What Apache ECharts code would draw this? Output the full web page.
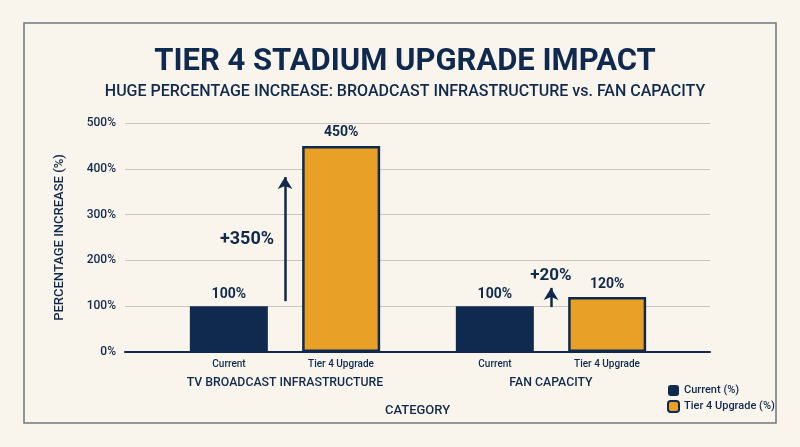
<!DOCTYPE html>
<html>
<head>
<meta charset="utf-8">
<script src="https://cdn.jsdelivr.net/npm/echarts@6/dist/echarts.min.js"></script>
<style>
    html, body { margin: 0; padding: 0; background: #faf5ec; }
    #chart { width: 800px; height: 447px; }
</style>
</head>
<body>
<div id="chart"></div>
<script>
// data
var groups = ['TV BROADCAST INFRASTRUCTURE', 'FAN CAPACITY'];
var subLabels = ['Current', 'Tier 4 Upgrade'];
var currentVals = [100, 100];
var upgradeVals = [450, 120];
var deltaLabels = ['+350%', '+20%'];
var arrowFrom = [111, 98];
var arrowTo = [382, 140];
var deltaTextAt = [246, 166];

var NAVY = '#0f2a4e';
var ORANGE = '#e8a026';

var myChart = echarts.init(document.getElementById('chart'));

function buildOption() {
    var arrowLines = [];
    var deltaPoints = [];
    for (var i = 0; i < groups.length; i++) {
        arrowLines.push([
            { coord: [groups[i], arrowFrom[i]] },
            { coord: [groups[i], arrowTo[i]] }
        ]);
        deltaPoints.push({
            coord: [groups[i], deltaTextAt[i]],
            value: deltaLabels[i],
            label: { offset: i === 0 ? [-38, 0] : [0, 0], fontSize: i === 0 ? 18 : 17 }
        });
    }

    var option = {
        backgroundColor: '#faf5ec',
        textStyle: { fontFamily: 'Roboto' },
        graphic: [{
            type: 'rect',
            shape: { x: 24, y: 23, width: 752, height: 400 },
            style: { fill: 'none', stroke: '#6f7780', lineWidth: 1.5 },
            silent: true
        }],
        title: [{
            text: 'TIER 4 STADIUM UPGRADE IMPACT',
            left: 400, top: 42, textAlign: 'center',
            textStyle: { fontSize: 31, fontWeight: 'bold', color: NAVY, fontFamily: 'Roboto' }
        }, {
            text: 'HUGE PERCENTAGE INCREASE: BROADCAST INFRASTRUCTURE vs. FAN CAPACITY',
            left: 400, top: 79, textAlign: 'center',
            textStyle: { fontSize: 16, fontWeight: 500, color: NAVY, fontFamily: 'Roboto' }
        }],
        legend: {
            orient: 'vertical',
            left: 662, top: 380,
            itemWidth: 11, itemHeight: 11, itemGap: 4,
            textStyle: { fontSize: 11, fontWeight: 500, color: NAVY },
            data: ['Current (%)', 'Tier 4 Upgrade (%)']
        },
        grid: [
            { left: 125, right: 90, top: 123, bottom: 95 },
            { left: 152, right: 116, top: 123, bottom: 95 }
        ],
        xAxis: [{
            gridIndex: 0,
            type: 'value', min: 0, max: 1,
            axisLine: { show: true, onZero: false, lineStyle: { color: NAVY, width: 2 } },
            axisTick: { show: false },
            axisLabel: { show: false },
            splitLine: { show: false },
            name: 'CATEGORY',
            nameLocation: 'middle',
            nameGap: 52,
            nameTextStyle: { fontSize: 13, fontWeight: 500, color: NAVY }
        }, {
            gridIndex: 1,
            type: 'category',
            data: groups,
            axisLine: { show: false },
            axisTick: { show: false },
            axisLabel: {
                interval: 0,
                margin: 5,
                formatter: function (v) {
                    return '{s|' + subLabels[0] + '}{s|' + subLabels[1] + '}\n{g|' + v + '}';
                },
                rich: {
                    s: { width: 112, align: 'center', fontSize: 10, fontWeight: 500, lineHeight: 14, color: NAVY },
                    g: { fontSize: 12.3, fontWeight: 500, lineHeight: 24, color: NAVY }
                }
            }
        }],
        yAxis: [{
            gridIndex: 0,
            type: 'value', min: 0, max: 500, interval: 100,
            axisLine: { show: false },
            axisTick: { show: false },
            axisLabel: { formatter: '{value}%', fontSize: 12, fontWeight: 500, color: NAVY, margin: 9 },
            splitLine: { lineStyle: { color: '#c9c6bf', width: 1 } },
            name: 'PERCENTAGE INCREASE (%)',
            nameLocation: 'middle',
            nameGap: 59,
            nameTextStyle: { fontSize: 13, fontWeight: 500, color: NAVY }
        }, {
            gridIndex: 1,
            type: 'value', min: 0, max: 500, interval: 100,
            show: false
        }],
        series: [{
            name: 'Current (%)',
            type: 'bar',
            xAxisIndex: 1, yAxisIndex: 1,
            data: currentVals,
            barWidth: 78,
            barGap: '44%',
            itemStyle: { color: NAVY },
            label: {
                show: true, position: 'top', distance: 5,
                formatter: '{c}%', fontSize: 14, fontWeight: 'bold', color: NAVY
            }
        }, {
            name: 'Tier 4 Upgrade (%)',
            type: 'bar',
            xAxisIndex: 1, yAxisIndex: 1,
            data: upgradeVals,
            barWidth: 78,
            itemStyle: { color: ORANGE, borderColor: NAVY, borderWidth: 2.5 },
            label: {
                show: true, position: 'top', distance: 6,
                formatter: '{c}%', fontSize: 14, fontWeight: 'bold', color: NAVY
            }
        }, {
            // annotations: arrows and deltas at category centres
            name: 'delta',
            type: 'line',
            xAxisIndex: 1, yAxisIndex: 1,
            data: [],
            silent: true,
            markLine: {
                silent: true,
                symbol: ['none', 'arrow'],
                symbolSize: [11, 12],
                lineStyle: { color: NAVY, width: 2.5, type: 'solid' },
                label: { show: false },
                data: arrowLines
            },
            markPoint: {
                silent: true,
                symbol: 'circle', symbolSize: 0,
                label: {
                    show: true, position: 'inside',
                    formatter: function (p) { return p.value; },
                    fontWeight: 'bold', color: NAVY
                },
                data: deltaPoints
            }
        }]
    };
    return option;
}

myChart.setOption(buildOption());
</script>
</body>
</html>
